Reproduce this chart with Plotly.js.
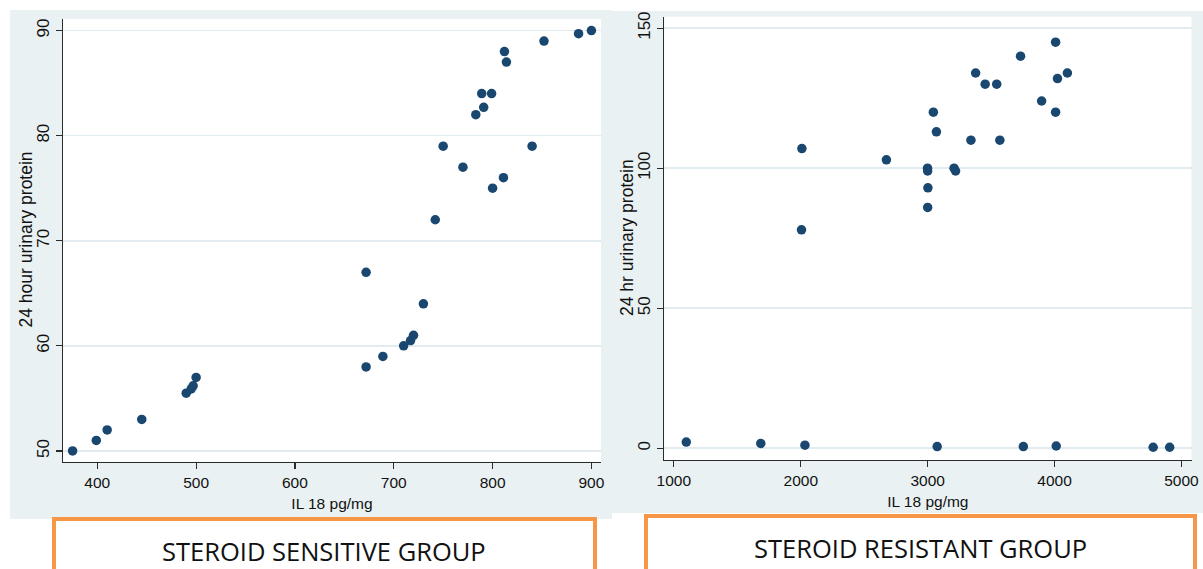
<!DOCTYPE html>
<html>
<head>
<meta charset="utf-8">
<script src="https://cdn.plot.ly/plotly-3.0.1.min.js"></script>
<style>
  html, body { margin: 0; padding: 0; background: #ffffff; }
  #chart { width: 1203px; height: 569px; }
</style>
</head>
<body>
<div id="chart"></div>
<script>
// ---- Data: steroid sensitive group ----
var sensitiveIL18 = [375, 399, 410, 445, 490, 495, 497, 500, 672, 689, 710, 717, 720, 730, 672, 742, 750, 770, 800, 811, 840, 783, 791, 789, 799, 812, 814, 852, 887, 900];
var sensitiveProtein = [50, 51, 52, 53, 55.5, 55.9, 56.2, 57, 58, 59, 60, 60.5, 61, 64, 67, 72, 79, 77, 75, 76, 79, 82, 82.7, 84, 84, 88, 87, 89, 89.7, 90];

// ---- Data: steroid resistant group ----
var resistantIL18 = [2009, 2006, 2675, 2999, 3000, 3002, 3000, 3045, 3069, 3208, 3220, 3341, 3378, 3453, 3544, 3569, 3732, 3898, 4008, 4008, 4023, 4101,
                     1098, 1685, 2033, 3075, 3754, 4013, 4777, 4907];
var resistantProtein = [107, 78, 103, 100, 99, 93, 86, 120, 113, 100, 99, 110, 134, 130, 130, 110, 140, 124, 145, 120, 132, 134,
                        2.2, 1.7, 1.1, 0.6, 0.6, 0.8, 0.35, 0.35];

// ---- Ticks and labels ----
var sensXTicks = [400, 500, 600, 700, 800, 900];
var sensYTicks = [50, 60, 70, 80, 90];
var resXTicks = [1000, 2000, 3000, 4000, 5000];
var resYTicks = [0, 50, 100, 150];
var xTitle = 'IL 18 pg/mg';
var sensYTitle = '24 hour urinary protein';
var resYTitle = '24 hr urinary protein';
var groupLabels = ['STEROID SENSITIVE GROUP', 'STEROID RESISTANT GROUP'];

var W = 1203, H = 569;
function px(x) { return x / W; }
function py(y) { return 1 - y / H; }

var markerColor = '#1a476f';
var bgColor = '#eaf1f3';
var gridColor = '#e2ebef';
var lineColor = '#2b2b2b';
var baseFont = 'Liberation Sans, Arial, sans-serif';

var traces = [
  {
    type: 'scatter', mode: 'markers',
    x: sensitiveIL18, y: sensitiveProtein,
    xaxis: 'x', yaxis: 'y',
    marker: { color: markerColor, size: 9.5, line: { width: 0 } },
    showlegend: false, hoverinfo: 'x+y'
  },
  {
    type: 'scatter', mode: 'markers',
    x: resistantIL18, y: resistantProtein,
    xaxis: 'x2', yaxis: 'y2',
    marker: { color: markerColor, size: 9.5, line: { width: 0 } },
    showlegend: false, hoverinfo: 'x+y'
  }
];

function xAxis(domain, range, ticks, anchor) {
  return {
    domain: domain, range: range, anchor: anchor,
    tickmode: 'array', tickvals: ticks, ticktext: ticks.map(String),
    showgrid: false, zeroline: false,
    showline: true, linecolor: lineColor, linewidth: 1.3,
    ticks: 'outside', ticklen: 6, tickwidth: 1.2, tickcolor: lineColor,
    tickfont: { family: baseFont, size: 15.5, color: '#111' },
    title: { text: xTitle, font: { family: baseFont, size: 15.5, color: '#111' }, standoff: 8 },
    fixedrange: true
  };
}
function yAxis(domain, range, ticks, anchor) {
  return {
    domain: domain, range: range, anchor: anchor,
    tickmode: 'array', tickvals: ticks, ticktext: ticks.map(String),
    tickangle: -90,
    showgrid: true, gridcolor: gridColor, gridwidth: 1.5,
    zeroline: false,
    showline: true, linecolor: lineColor, linewidth: 1.3,
    ticks: 'outside', ticklen: 6, tickwidth: 1.2, tickcolor: lineColor,
    tickfont: { family: baseFont, size: 17, color: '#111' },
    fixedrange: true
  };
}

var layout = {
  width: W, height: H,
  margin: { l: 0, r: 0, t: 0, b: 0, pad: 0 },
  paper_bgcolor: '#ffffff',
  plot_bgcolor: 'rgba(0,0,0,0)',
  showlegend: false,
  xaxis: xAxis([px(63), px(601)], [365.3, 909.7], sensXTicks, 'y'),
  yaxis: yAxis([py(461.7), py(19)], [48.98, 91.1], sensYTicks, 'x'),
  xaxis2: xAxis([px(664.2), px(1191.5)], [924, 5079], resXTicks, 'y2'),
  yaxis2: yAxis([py(460), py(16.7)], [-4.2, 154.1], resYTicks, 'x2'),
  shapes: [
    // panel backgrounds
    { type: 'rect', xref: 'paper', yref: 'paper', x0: px(10), x1: px(612), y0: py(519), y1: py(10),
      fillcolor: bgColor, line: { width: 0 }, layer: 'below' },
    { type: 'rect', xref: 'paper', yref: 'paper', x0: px(600), x1: px(1203), y0: py(513), y1: py(11),
      fillcolor: bgColor, line: { width: 0 }, layer: 'below' },
    // white plot regions
    { type: 'rect', xref: 'x domain', yref: 'y domain', x0: 0, x1: 1, y0: 0, y1: 1,
      fillcolor: '#ffffff', line: { width: 0 }, layer: 'below' },
    { type: 'rect', xref: 'x2 domain', yref: 'y2 domain', x0: 0, x1: 1, y0: 0, y1: 1,
      fillcolor: '#ffffff', line: { width: 0 }, layer: 'below' },
    // orange label boxes
    { type: 'rect', xref: 'paper', yref: 'paper', x0: px(54), x1: px(595), y0: py(580), y1: py(519),
      fillcolor: '#ffffff', line: { color: '#f79646', width: 4 }, layer: 'above' },
    { type: 'rect', xref: 'paper', yref: 'paper', x0: px(646), x1: px(1195), y0: py(580), y1: py(516),
      fillcolor: '#ffffff', line: { color: '#f79646', width: 4 }, layer: 'above' }
  ],
  annotations: [
    // y-axis titles
    { xref: 'paper', yref: 'paper', x: px(25.5), y: py(240), xanchor: 'center', yanchor: 'middle',
      text: sensYTitle, textangle: -90, showarrow: false,
      font: { family: baseFont, size: 17.5, color: '#111' } },
    { xref: 'paper', yref: 'paper', x: px(627), y: py(238), xanchor: 'center', yanchor: 'middle',
      text: resYTitle, textangle: -90, showarrow: false,
      font: { family: baseFont, size: 17.5, color: '#111' } },
    // group labels
    { xref: 'paper', yref: 'paper', x: px(324), y: py(551), xanchor: 'center', yanchor: 'middle',
      text: groupLabels[0], showarrow: false,
      font: { family: 'Open Sans, Lato, sans-serif', size: 25.5, color: '#111' } },
    { xref: 'paper', yref: 'paper', x: px(920), y: py(548), xanchor: 'center', yanchor: 'middle',
      text: groupLabels[1], showarrow: false,
      font: { family: 'Open Sans, Lato, sans-serif', size: 25.5, color: '#111' } }
  ]
};

Plotly.newPlot('chart', traces, layout, { displayModeBar: false, staticPlot: true });
</script>
</body>
</html>
